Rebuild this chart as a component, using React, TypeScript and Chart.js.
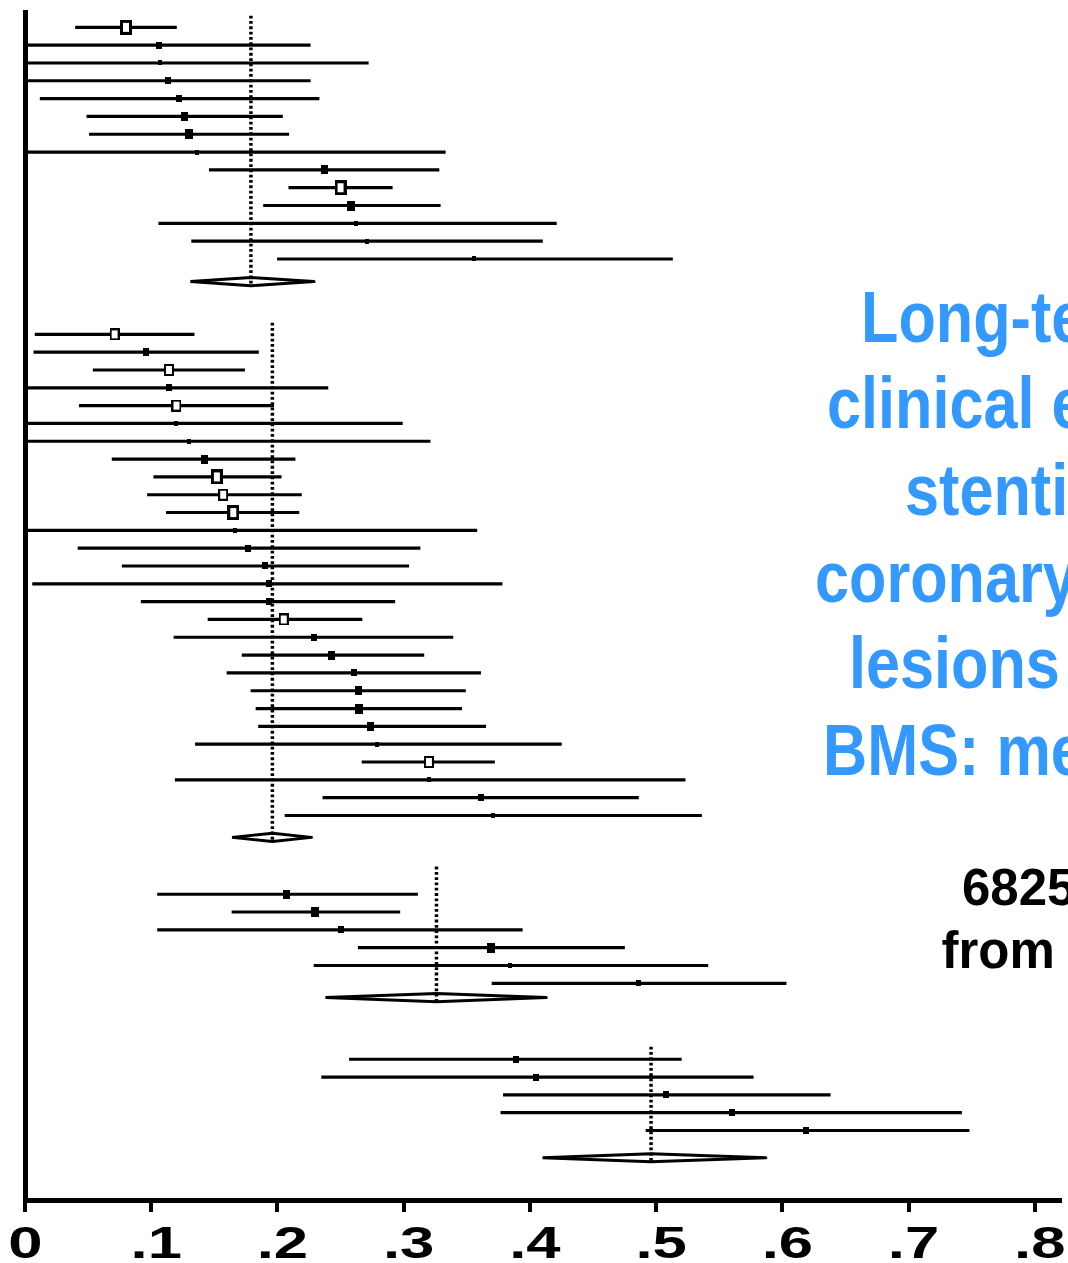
import React, { useEffect, useRef } from "react";
import { Chart, registerables } from "chart.js";

Chart.register(...registerables);

// Subgroup 1: study proportions with 95% CI and relative weight
const g1Est = [0.080, 0.106, 0.107, 0.113, 0.122, 0.126, 0.130, 0.136, 0.237, 0.250, 0.258, 0.262, 0.271, 0.356];
const g1Lo = [0.040, 0, 0, 0, 0.012, 0.049, 0.051, 0, 0.146, 0.209, 0.189, 0.106, 0.132, 0.200];
const g1Hi = [0.120, 0.226, 0.272, 0.226, 0.233, 0.204, 0.209, 0.333, 0.328, 0.291, 0.329, 0.421, 0.410, 0.513];
const g1Wt = [10, 2.2, 1.1, 2.2, 2.2, 4, 4.5, 1.1, 4, 10, 4.5, 1.3, 1.1, 1.1];

// Subgroup 2
const g2Est = [0.071, 0.096, 0.114, 0.114, 0.120, 0.120, 0.130, 0.142, 0.152, 0.157, 0.165, 0.166, 0.177, 0.190, 0.193, 0.193, 0.205, 0.229, 0.243, 0.261, 0.264, 0.265, 0.274, 0.279, 0.320, 0.320, 0.361, 0.371];
const g2Lo = [0.008, 0.007, 0.054, 0, 0.043, 0, 0, 0.069, 0.102, 0.097, 0.112, 0, 0.042, 0.077, 0.006, 0.092, 0.145, 0.118, 0.172, 0.160, 0.179, 0.183, 0.185, 0.135, 0.267, 0.119, 0.236, 0.206];
const g2Hi = [0.134, 0.185, 0.174, 0.240, 0.197, 0.299, 0.321, 0.214, 0.203, 0.219, 0.217, 0.358, 0.313, 0.304, 0.378, 0.293, 0.267, 0.339, 0.316, 0.361, 0.349, 0.346, 0.365, 0.425, 0.372, 0.523, 0.486, 0.536];
const g2Wt = [7, 3, 7, 2.5, 6.5, 1.3, 1.3, 4, 10, 7, 10, 1.1, 2.5, 2.5, 2.5, 2.5, 6, 2.5, 4, 2.5, 4, 4.5, 4, 1.3, 7, 1, 2.5, 1];

// Subgroup 3
const g3Est = [0.207, 0.230, 0.250, 0.369, 0.384, 0.486];
const g3Lo = [0.105, 0.164, 0.105, 0.264, 0.229, 0.370];
const g3Hi = [0.311, 0.297, 0.394, 0.475, 0.541, 0.603];
const g3Wt = [3.5, 4.5, 2.5, 4.5, 1.3, 1.5];

// Subgroup 4
const g4Est = [0.389, 0.405, 0.508, 0.560, 0.619];
const g4Lo = [0.257, 0.235, 0.379, 0.377, 0.492];
const g4Hi = [0.520, 0.577, 0.638, 0.742, 0.748];
const g4Wt = [2, 2, 2, 2, 2];

// Pooled estimates per subgroup
const pooledEst = [0.179, 0.196, 0.326, 0.496];
const pooledLo = [0.131, 0.164, 0.238, 0.410];
const pooledHi = [0.229, 0.227, 0.413, 0.587];

// X axis
const xTicks = [0, 0.1, 0.2, 0.3, 0.4, 0.5, 0.6, 0.7, 0.8];
const xTickLabels = ["0", ".1", ".2", ".3", ".4", ".5", ".6", ".7", ".8"];

// Side text
const titleLines = ["Long-term", "clinical efficacy", "stenting", "coronary", "lesions", "BMS: meta-analysis"];
const noteLines = ["6825", "from"];

// Layout (row units on the vertical axis, pixels for the text blocks)
const ROW_MIN = -0.86;
const ROW_MAX = 65.81;
const GROUP_START = [0, 17.23, 48.65, 57.91];
const POOLED_GAP = [1.27, 1.23, 0.8, 1.53];
const GUIDE_TOP = [0.65, 0.65, 1.55, 0.7];
const DIAMOND_HALF = 0.23;
const TITLE_X = [860.7, 827.2, 904.5, 815.2, 848.8, 822.6];
const TITLE_BASE = [341.7, 428.3, 515, 601.7, 688.3, 775];
const NOTE_X = [962, 941.5];
const NOTE_BASE = [905, 968.3];

const groups = [
  { est: g1Est, lo: g1Lo, hi: g1Hi, wt: g1Wt },
  { est: g2Est, lo: g2Lo, hi: g2Hi, wt: g2Wt },
  { est: g3Est, lo: g3Lo, hi: g3Hi, wt: g3Wt },
  { est: g4Est, lo: g4Lo, hi: g4Hi, wt: g4Wt },
];

export default function App() {
  const canvasRef = useRef<HTMLCanvasElement>(null);

  useEffect(() => {
    const canvas = canvasRef.current;
    if (!canvas) return;

    // Weight-scaled study boxes; heavy studies are drawn hollow
    const cache = new Map<number, HTMLCanvasElement>();
    const boxFor = (w: number): HTMLCanvasElement => {
      const hit = cache.get(w);
      if (hit) return hit;
      const h = Math.max(4, Math.round(4.7 * Math.sqrt(w)));
      const wd = Math.max(4, Math.round(h * 0.8));
      const c = document.createElement("canvas");
      c.width = wd;
      c.height = h;
      const g = c.getContext("2d")!;
      g.fillStyle = "#000";
      g.fillRect(0, 0, wd, h);
      if (w >= 6) {
        const b = w >= 9 ? 3 : 2;
        g.fillStyle = "#fff";
        g.fillRect(b, b, wd - 2 * b, h - 2 * b);
      }
      cache.set(w, c);
      return c;
    };

    const ciData: any[] = [];
    const ptData: any[] = [];
    const extra: any[] = [];

    groups.forEach((g, gi) => {
      g.est.forEach((e, i) => {
        const y = GROUP_START[gi] + i;
        ciData.push({ y, x: [g.lo[i], g.hi[i]] });
        ptData.push({ x: e, y, w: g.wt[i] });
      });
      const yd = GROUP_START[gi] + g.est.length - 1 + POOLED_GAP[gi];
      extra.push({
        type: "scatter",
        data: [
          { x: pooledLo[gi], y: yd },
          { x: pooledEst[gi], y: yd - DIAMOND_HALF },
          { x: pooledHi[gi], y: yd },
          { x: pooledEst[gi], y: yd + DIAMOND_HALF },
          { x: pooledLo[gi], y: yd },
        ],
        showLine: true,
        pointRadius: 0,
        borderColor: "#000",
        borderWidth: 3,
        borderJoinStyle: "round",
        order: 3,
      });
      extra.push({
        type: "scatter",
        data: [
          { x: pooledEst[gi], y: GROUP_START[gi] - GUIDE_TOP[gi] },
          { x: pooledEst[gi], y: yd + DIAMOND_HALF },
        ],
        showLine: true,
        pointRadius: 0,
        borderColor: "#000",
        borderWidth: 3.5,
        borderDash: [2.8, 2.5],
        borderCapStyle: "butt",
        order: 1,
      });
    });

    const tickLabelPlugin = {
      id: "axisNumberLabels",
      afterDraw(chart: any) {
        const s = chart.scales.x;
        const ctx = chart.ctx;
        ctx.save();
        ctx.font = 'bold 44px "Liberation Sans", Arial, sans-serif';
        ctx.fillStyle = "#000";
        ctx.textAlign = "center";
        ctx.textBaseline = "alphabetic";
        xTicks.forEach((v, i) => {
          const label = xTickLabels[i];
          const px = s.getPixelForValue(v) + (label.startsWith(".") ? 5 : 0.5);
          ctx.save();
          ctx.translate(px, 1258);
          ctx.scale(1.4, 1);
          ctx.fillText(label, 0, 0);
          ctx.restore();
        });
        ctx.restore();
      },
    };

    const chart = new Chart(canvas, {
      type: "scatter",
      data: {
        datasets: [
          {
            type: "scatter",
            data: ptData,
            pointRadius: 3,
            pointStyle: (c: any) => (c.raw && c.raw.w ? boxFor(c.raw.w) : "rect"),
            order: 0,
          } as any,
          {
            type: "bar",
            indexAxis: "y",
            data: ciData,
            backgroundColor: "#000",
            borderWidth: 0,
            barThickness: 2.5,
            grouped: false,
            order: 2,
          } as any,
          ...extra,
        ],
      },
      options: {
        responsive: false,
        animation: false,
        devicePixelRatio: 1,
        events: [],
        layout: { padding: { left: 0, top: 12, right: 8, bottom: 0 } },
        plugins: { legend: { display: false }, tooltip: { enabled: false } },
        scales: {
          x: {
            type: "linear",
            position: "bottom",
            min: 0,
            max: 0.82,
            afterBuildTicks: (s: any) => {
              s.ticks = xTicks.map((v) => ({ value: v }));
            },
            afterFit: (s: any) => {
              s.height = 63;
            },
            ticks: { display: false },
            grid: {
              display: true,
              drawOnChartArea: false,
              drawTicks: true,
              tickLength: 12,
              tickWidth: 4,
              tickColor: "#000",
              lineWidth: 4,
              color: "#000",
            },
            border: { display: true, width: 5, color: "#000" },
          },
          y: {
            type: "linear",
            position: "left",
            reverse: true,
            bounds: "data",
            offset: false,
            min: ROW_MIN,
            max: ROW_MAX,
            afterBuildTicks: (s: any) => {
              s.min = ROW_MIN;
              s.max = ROW_MAX;
              s.ticks = [{ value: ROW_MAX }, { value: ROW_MIN }];
            },
            afterFit: (s: any) => {
              s.width = 25;
            },
            ticks: { display: false },
            grid: { display: false, drawTicks: false, offset: false },
            border: { display: true, width: 5, color: "#000" },
          },
        },
      } as any,
      plugins: [tickLabelPlugin],
    });

    return () => chart.destroy();
  }, []);

  return (
    <div
      style={{
        position: "fixed",
        left: 0,
        top: 0,
        width: 1068,
        height: 1263,
        overflow: "hidden",
        background: "#fff",
      }}
    >
      <canvas
        ref={canvasRef}
        width={1068}
        height={1263}
        style={{ position: "absolute", left: 0, top: 0 }}
      />
      {titleLines.map((t, i) => (
        <div
          key={"t" + i}
          style={{
            position: "absolute",
            left: TITLE_X[i],
            top: TITLE_BASE[i] - 61,
            font: 'bold 72px "Liberation Sans", Arial, sans-serif',
            lineHeight: "72px",
            color: "#3399ff",
            whiteSpace: "nowrap",
            transform: "scaleX(0.85)",
            transformOrigin: "0 0",
          }}
        >
          {t}
        </div>
      ))}
      {noteLines.map((t, i) => (
        <div
          key={"n" + i}
          style={{
            position: "absolute",
            left: NOTE_X[i],
            top: NOTE_BASE[i] - 43.2,
            font: 'bold 51px "Liberation Sans", Arial, sans-serif',
            lineHeight: "51px",
            color: "#000",
            whiteSpace: "nowrap",
          }}
        >
          {t}
        </div>
      ))}
    </div>
  );
}
